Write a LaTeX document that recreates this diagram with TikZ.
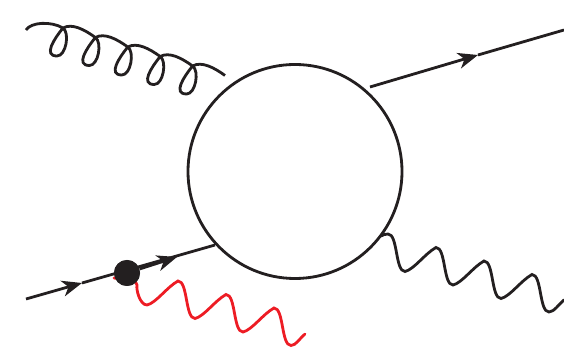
\documentclass[tikz,border=0pt]{standalone}
\usepackage{xcolor}
\usetikzlibrary{arrows.meta, calc}
\definecolor{ink}{RGB}{35, 31, 32}
\definecolor{photonred}{RGB}{237, 28, 36}

\begin{document}
\begin{tikzpicture}[
    x=1pt, y=1pt,
    line/.style={line width=2.8pt, color=ink},
    fermion/.style={line, -{Stealth[length=20pt, width=16pt, inset=6pt]}},
    boson/.style={line width=2.8pt, color=ink, line cap=round},
    photon/.style={boson, color=photonred},
    gluon/.style={line width=2.8pt, color=ink},
    blob/.style={circle, draw=ink, line width=2.8pt, fill=white, minimum size=214pt, inner sep=0pt},
    vertex/.style={circle, fill=ink, minimum size=26pt, inner sep=0pt}
]
\useasboundingbox (0,0) rectangle (564,350);

\node[blob] (amp) at (295,178.5) {};
\node[vertex] (ins) at (127,77) {};

% external points
\coordinate (qin) at (26,51);
\coordinate (qmid) at (82,67);
\coordinate (qafter) at (177,93);
\coordinate (qvert) at (215,105);
\coordinate (qout) at (370,263);
\coordinate (qoutmid) at (478,295);
\coordinate (qend) at (564,320);
\coordinate (gstart) at (26,320);
\coordinate (gend) at (221,262);
\coordinate (wstart) at (381,114);
\coordinate (wend) at (564,50);
\coordinate (rstart) at (114,72);
\coordinate (rend) at (305,16);

% red photon, under the dot
\draw[photon] (rstart) .. controls +(10,-2) and +(-3,10) .. (137,65)
    .. controls +(-1,-5) and +(-7,0) .. (147,45)
    \foreach \i in {1,2,3} {
        .. controls +(9,2) and +(-11,-6) .. ++(31,24)
        .. controls +(10,0) and +(-10,0) .. ++(17,-37.5)
    }
    .. controls +(5,0) and +(-5,-4) .. (rend);

% fermion lines
\draw[fermion] (qin) -- (qmid);
\draw[line] (qmid) -- (qvert);
\draw[fermion] (ins) -- (qafter);
\draw[fermion] (qout) -- (qoutmid);
\draw[line] (qoutmid) -- (qend);
\node[vertex] at (ins) {};

% black boson
\draw[boson] (wstart) .. controls +(2,1) and +(-3,0) .. (388,116)
    .. controls +(10,0) and +(-10,0) .. ++(17,-37.5)
    \foreach \i in {1,2,3} {
        .. controls +(9,2) and +(-11,-6) .. ++(31,24)
        .. controls +(10,0) and +(-10,0) .. ++(17,-37.5)
    }
    .. controls +(5,0) and +(-5,-4) .. (wend);

% gluon with loops
\draw[gluon] (gstart) .. controls +(5,8) and +(-12,7) .. (63,322)
    \foreach \i in {0,1,2,3,4} {
        .. controls +(7,-5) and +(9,0) .. ++(-6,-28)
        .. controls +(-14,0) and +(-9,-11) .. ++(6,28)
        .. controls +(9,5) and +(-11,8) .. ++(32.4,-9.5)
    };
\path (gend);
\end{tikzpicture}
\end{document}
